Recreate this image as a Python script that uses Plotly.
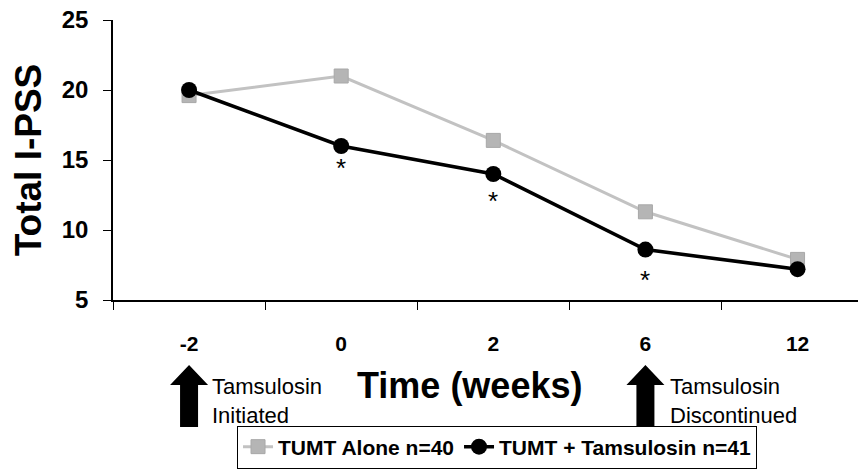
import plotly.graph_objects as go

weeks = ["-2", "0", "2", "6", "12"]
tumt_alone = [19.6, 21.0, 16.4, 11.3, 7.9]
tumt_tams = [20.0, 16.0, 14.0, 8.6, 7.2]
star_weeks = ["0", "2", "6"]
star_y = [14.4, 12.1, 6.4]
arrow_weeks = ["-2", "6"]
y_ticks = [5, 10, 15, 20, 25]

BOLD = "Liberation Sans, Arial, sans-serif"
NARROW = "Liberation Sans Narrow, Liberation Sans, Arial, sans-serif"

fig = go.Figure()
fig.add_trace(go.Scatter(
    x=weeks, y=tumt_alone, name="TUMT Alone n=40", mode="lines+markers",
    line=dict(color="#c2c2c2", width=3),
    marker=dict(symbol="square", size=14, color="#b5b5b5", line=dict(color="#a8a8a8", width=1)),
))
fig.add_trace(go.Scatter(
    x=weeks, y=tumt_tams, name="TUMT + Tamsulosin n=41", mode="lines+markers",
    line=dict(color="black", width=3.5),
    marker=dict(symbol="circle", size=16, color="black"),
))

annotations = []
for w, v in zip(star_weeks, star_y):
    annotations.append(dict(x=weeks.index(w), y=v, xref="x", yref="y", text="*", showarrow=False,
                            font=dict(size=26, color="black", family=BOLD), yanchor="middle"))

arrow_path = "M0,0 L19,-20 L9,-20 L9,-62 L-9,-62 L-9,-20 L-19,-20 Z"
shapes = []
for w in arrow_weeks:
    shapes.append(dict(type="path", xref="x", yref="paper", xsizemode="pixel", ysizemode="pixel",
                       xanchor=weeks.index(w), yanchor=-0.232, path=arrow_path,
                       fillcolor="black", line=dict(width=0)))

annotations.append(dict(x=0.1288, y=-0.361, xref="paper", yref="paper",
                        text="Tamsulosin<br>Initiated", showarrow=False, align="left",
                        xanchor="left", yanchor="middle",
                        font=dict(size=22, color="black", family=NARROW)))
annotations.append(dict(x=0.737, y=-0.361, xref="paper", yref="paper",
                        text="Tamsulosin<br>Discontinued", showarrow=False, align="left",
                        xanchor="left", yanchor="middle",
                        font=dict(size=22, color="black", family=NARROW)))
annotations.append(dict(x=0.474, y=-0.307, xref="paper", yref="paper",
                        text="Time (weeks)", showarrow=False,
                        xanchor="center", yanchor="middle",
                        font=dict(size=36, color="black", family=BOLD, weight="bold")))

fig.update_layout(
    width=858, height=467,
    margin=dict(l=105, r=0, t=12, b=175, autoexpand=False),
    paper_bgcolor="white", plot_bgcolor="white",
    showlegend=True,
    legend=dict(orientation="h", x=0.51, y=-0.525, xanchor="center", yanchor="middle",
                bordercolor="black", borderwidth=1, bgcolor="white",
                font=dict(size=21, color="black", family=BOLD, weight="bold"),
                itemwidth=30, tracegroupgap=0),
    annotations=annotations,
    shapes=shapes,
    font=dict(family=BOLD, color="black"),
)
fig.update_xaxes(
    type="category", categoryorder="array", categoryarray=weeks,
    tickson="boundaries", ticks="outside", ticklen=8, tickcolor="black",
    showline=True, linecolor="black", linewidth=1.5, showgrid=False, zeroline=False,
    tickfont=dict(size=21, family=BOLD, color="black", weight="bold"),
    ticklabelstandoff=24, automargin=False,
    range=[-0.5, 4.45],
)
fig.update_yaxes(
    range=[5, 25], tickvals=y_ticks, ticks="outside", ticklen=8, tickcolor="black",
    showline=True, linecolor="black", linewidth=1.5, showgrid=False, zeroline=False,
    tickfont=dict(size=24, family=BOLD, color="black", weight="bold"),
    ticklabelstandoff=10, ticklabeloverflow="allow", automargin=False,
    title=dict(text="Total I-PSS", font=dict(size=37, family=BOLD, color="black", weight="bold"), standoff=12),
)
fig.write_html("out.html")
